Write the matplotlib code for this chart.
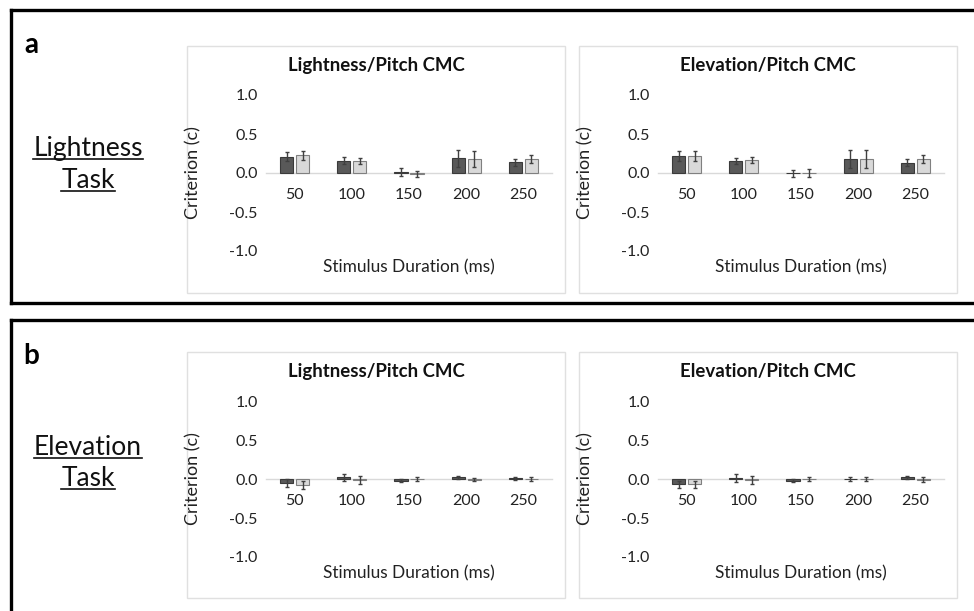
import numpy as np
import matplotlib
matplotlib.use("Agg")
import matplotlib.pyplot as plt
from matplotlib.lines import Line2D
from matplotlib.patches import Rectangle

plt.rcParams['font.family'] = ['Lato', 'DejaVu Sans']

durations = ["50", "100", "150", "200", "250"]

# a: lightness task
lt_lp_dark = [0.21, 0.16, 0.01, 0.19, 0.135]
lt_lp_dark_err = [0.06, 0.04, 0.05, 0.11, 0.05]
lt_lp_light = [0.225, 0.155, -0.01, 0.18, 0.18]
lt_lp_light_err = [0.06, 0.04, 0.04, 0.10, 0.05]
lt_ep_dark = [0.22, 0.15, -0.005, 0.18, 0.13]
lt_ep_dark_err = [0.06, 0.04, 0.04, 0.11, 0.045]
lt_ep_light = [0.22, 0.165, 0.005, 0.18, 0.18]
lt_ep_light_err = [0.06, 0.04, 0.05, 0.11, 0.05]

# b: elevation task
et_lp_dark = [-0.05, 0.02, -0.02, 0.02, 0.01]
et_lp_dark_err = [0.05, 0.05, 0.02, 0.02, 0.02]
et_lp_light = [-0.08, -0.015, 0.0, -0.01, 0.0]
et_lp_light_err = [0.05, 0.05, 0.02, 0.02, 0.03]
et_ep_dark = [-0.07, 0.01, -0.02, 0.0, 0.02]
et_ep_dark_err = [0.05, 0.05, 0.02, 0.03, 0.02]
et_ep_light = [-0.07, -0.01, 0.0, 0.0, -0.01]
et_ep_light_err = [0.05, 0.05, 0.02, 0.03, 0.03]

W, H = 974, 611
fig = plt.figure(figsize=(W / 100, H / 100), dpi=100)


def fx(x):
    return x / W


def fy(y):
    return 1 - y / H


def px_axes(x0, y0, x1, y1):
    return fig.add_axes([fx(x0), fy(y1), (x1 - x0) / W, (y1 - y0) / H])


def bar_chart(ax, dark, dark_err, light, light_err):
    x = np.arange(len(durations))
    w = 0.23
    off = 0.14
    ekw = dict(ecolor='#404040', elinewidth=1.0, capsize=1.5, capthick=1.0)
    ax.bar(x - off, dark, w, color='#595959', edgecolor='#3a3a3a', linewidth=0.8,
           yerr=dark_err, error_kw=ekw, zorder=3)
    ax.bar(x + off, light, w, color='#d9d9d9', edgecolor='#808080', linewidth=0.8,
           yerr=light_err, error_kw=ekw, zorder=3)
    ax.set_xlim(-0.5, len(durations) - 0.5)
    ax.set_ylim(-1, 1)
    ax.set_yticks([-1.0, -0.5, 0.0, 0.5, 1.0])
    ax.set_yticklabels(['-1.0', '-0.5', '0.0', '0.5', '1.0'])
    ax.set_xticks(x)
    ax.set_xticklabels(durations)
    for s in ['top', 'right', 'left']:
        ax.spines[s].set_visible(False)
    ax.spines['bottom'].set_position(('data', 0))
    ax.spines['bottom'].set_color('#d9d9d9')
    ax.spines['bottom'].set_linewidth(1.0)
    ax.spines['bottom'].set_zorder(1)
    ax.tick_params(axis='y', length=0, pad=6, labelsize=11.5, labelcolor='#222222')
    ax.tick_params(axis='x', length=0, pad=11, labelsize=11.5, labelcolor='#222222')
    ax.patch.set_alpha(0)


def chart_box(x0, y0, x1, y1, title, dark, dark_err, light, light_err):
    fig.patches.append(Rectangle((fx(x0), fy(y1)), (x1 - x0) / W, (y1 - y0) / H,
                                 transform=fig.transFigure, fill=False,
                                 edgecolor='#e0e0e0', linewidth=1.0))
    ax = px_axes(x0 + 79, y0 + 49, x1 - 13, y0 + 205)
    bar_chart(ax, dark, dark_err, light, light_err)
    fig.text(fx((x0 + x1) / 2), fy(y0 + 19), title, ha='center', va='center',
             fontsize=13.4, fontweight='bold', color='#111111')
    fig.text(fx(x0 + 79 + (x1 - 13 - x0 - 79) / 2), fy(y0 + 221),
             'Stimulus Duration (ms)', ha='center', va='center', fontsize=12.4,
             color='#222222')
    fig.text(fx(x0 + 6), fy(y0 + 127), 'Criterion (c)', ha='center', va='center',
             rotation=90, fontsize=13, color='#222222')
    return ax


chart_box(187, 46, 565, 293, 'Lightness/Pitch CMC', lt_lp_dark, lt_lp_dark_err, lt_lp_light, lt_lp_light_err)
chart_box(579, 46, 957, 293, 'Elevation/Pitch CMC', lt_ep_dark, lt_ep_dark_err, lt_ep_light, lt_ep_light_err)
chart_box(187, 352, 565, 598, 'Lightness/Pitch CMC', et_lp_dark, et_lp_dark_err, et_lp_light, et_lp_light_err)
chart_box(579, 352, 957, 598, 'Elevation/Pitch CMC', et_ep_dark, et_ep_dark_err, et_ep_light, et_ep_light_err)

# panel frames (open on the right / bottom)
lw = 2.4
frame_a = [((11, 10), (W + 5, 10)), ((11, 10), (11, 303)), ((11, 303), (W + 5, 303))]
frame_b = [((11, 320), (W + 5, 320)), ((11, 320), (11, H + 5))]
for (xa, ya), (xb, yb) in frame_a + frame_b:
    fig.lines.append(Line2D([fx(xa), fx(xb)], [fy(ya), fy(yb)], transform=fig.transFigure,
                            color='black', linewidth=lw, solid_capstyle='projecting'))

fig.text(fx(31), fy(53), 'a', fontsize=20, fontweight='bold', ha='center', va='baseline')
fig.text(fx(31), fy(364), 'b', fontsize=20, fontweight='bold', ha='center', va='baseline')

# side labels: (text, baseline y, underline y)
side_labels = [('Lightness', 156, 159), ('Task', 188, 191),
               ('Elevation', 455, 458), ('Task', 486, 489)]
for label, ybase, yline in side_labels:
    t = fig.text(fx(88), fy(ybase), label, fontsize=19, ha='center', va='baseline',
                 color='#111111')
    fig.canvas.draw()
    bb = t.get_window_extent(fig.canvas.get_renderer())
    fig.lines.append(Line2D([bb.x0 / W, bb.x1 / W], [fy(yline), fy(yline)],
                            transform=fig.transFigure, color='#111111', linewidth=1.2))

fig.savefig('out.png', dpi=100)
